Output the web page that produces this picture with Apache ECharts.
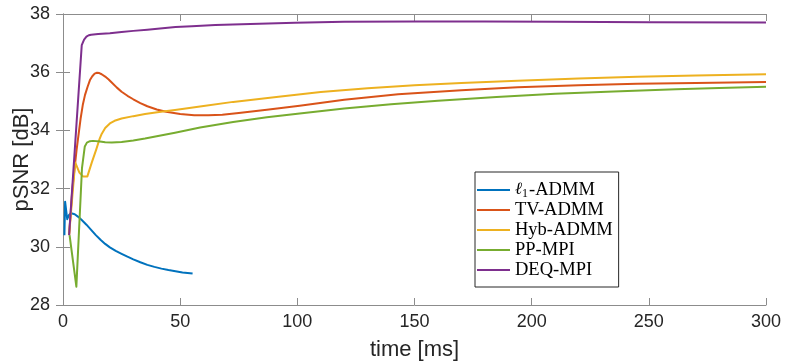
<!DOCTYPE html>
<html>
<head>
<meta charset="utf-8">
<script src="https://cdn.jsdelivr.net/npm/echarts@6/dist/echarts.min.js"></script>
<style>html,body{margin:0;padding:0;background:#fff}#c{width:789px;height:362px}</style>
</head>
<body>
<div id="c"></div>
<script>
// Series names
const seriesNames = ['ℓ1-ADMM', 'TV-ADMM', 'Hyb-ADMM', 'PP-MPI', 'DEQ-MPI'];

// l1-ADMM
const l1Time = [0.6, 0.9, 1.8, 2.6, 3.5, 5, 6.5, 8, 10, 12, 14, 16, 18, 20, 22.5, 25, 27.5, 30, 33, 36, 39, 42, 45, 48, 51, 55.3];
const l1Val  = [30.4, 31.55, 30.95, 31.1, 31.15, 31.12, 31.03, 30.92, 30.76, 30.58, 30.4, 30.24, 30.1, 29.98, 29.86, 29.76, 29.66, 29.57, 29.47, 29.38, 29.31, 29.25, 29.2, 29.16, 29.12, 29.08];

// TV-ADMM
const tvTime = [2.6, 4, 5.8, 7.5, 8.5, 9.4, 10.5, 11.5, 12.5, 13.5, 14.5, 15.5, 16.5, 18, 19.5, 21, 23, 25, 27.5, 30, 33, 36, 40, 44, 50, 56, 62, 68, 75, 87, 101, 120, 143, 170, 194, 220, 245, 270, 300];
const tvVal  = [30.4, 32.0, 33.33, 34.4, 34.9, 35.22, 35.5, 35.73, 35.86, 35.95, 35.98, 35.97, 35.93, 35.85, 35.75, 35.63, 35.47, 35.33, 35.19, 35.07, 34.94, 34.83, 34.72, 34.64, 34.56, 34.52, 34.52, 34.54, 34.6, 34.71, 34.85, 35.05, 35.24, 35.38, 35.48, 35.55, 35.6, 35.63, 35.66];

// Hyb-ADMM
const hybTime = [2.6, 5.2, 7, 8.5, 10.4, 12.3, 14.2, 15.5, 16.5, 18, 20, 22, 25, 30, 35, 41, 47.8, 60, 72.6, 92, 110, 130, 150, 170, 194, 220, 245, 270, 300];
const hybVal  = [30.4, 32.9, 32.55, 32.42, 32.42, 32.9, 33.35, 33.68, 33.88, 34.08, 34.24, 34.33, 34.41, 34.49, 34.56, 34.63, 34.7, 34.84, 34.98, 35.16, 35.32, 35.45, 35.55, 35.63, 35.71, 35.78, 35.84, 35.89, 35.93];

// PP-MPI
const ppTime = [2.8, 5.7, 8.1, 9.3, 10.2, 11.5, 12.8, 15.8, 18, 20.8, 25, 30, 35, 40, 47.8, 58.5, 72.6, 87, 101, 120, 140, 160, 185, 210, 235, 261.6, 280, 300];
const ppVal  = [30.4, 28.63, 32.7, 33.45, 33.58, 33.63, 33.64, 33.62, 33.59, 33.58, 33.6, 33.65, 33.72, 33.8, 33.92, 34.1, 34.29, 34.45, 34.58, 34.75, 34.9, 35.02, 35.15, 35.26, 35.34, 35.41, 35.46, 35.5];

// DEQ-MPI
const deqTime = [2.6, 8, 9, 10, 11, 12, 15, 20, 25, 30, 36, 41.4, 48, 55, 65, 80, 99, 120, 150, 180, 211, 250, 300];
const deqVal  = [30.4, 36.93, 37.12, 37.22, 37.27, 37.29, 37.31, 37.34, 37.38, 37.42, 37.46, 37.5, 37.55, 37.58, 37.62, 37.66, 37.7, 37.73, 37.74, 37.74, 37.73, 37.72, 37.71];

// Axis settings
const xMin = 0, xMax = 300, xStep = 50;
const yMin = 28, yMax = 38, yStep = 2;

const colors = ['#0072BD', '#D95319', '#EDB120', '#77AC30', '#7E2F8E'];
const times = [l1Time, tvTime, hybTime, ppTime, deqTime];
const vals = [l1Val, tvVal, hybVal, ppVal, deqVal];

const chart = echarts.init(document.getElementById('c'), null, {renderer: 'canvas'});
const axisCol = '#8c8c8c';
const labelCol = '#262626';
const sans = 'Liberation Sans, Arial, Helvetica, sans-serif';

const series = seriesNames.map((n, i) => ({
  name: n,
  type: 'line',
  xAxisIndex: 0,
  yAxisIndex: 0,
  symbol: 'none',
  smooth: false,
  lineStyle: {color: colors[i], width: 2, join: 'round'},
  itemStyle: {color: colors[i]},
  data: times[i].map((t, k) => [t, vals[i][k]])
}));

chart.setOption({
  animation: false,
  backgroundColor: '#fff',
  grid: {left: 63, right: 23, top: 14, bottom: 57, containLabel: false, outerBoundsMode: 'none'},
  xAxis: [{
    type: 'value', min: xMin, max: xMax, interval: xStep, position: 'bottom',
    name: 'time [ms]', nameLocation: 'middle', nameGap: 34, nameMoveOverlap: false,
    nameTextStyle: {fontFamily: sans, fontSize: 22, color: labelCol},
    axisLine: {show: true, lineStyle: {color: axisCol, width: 1}},
    axisTick: {show: true, inside: true, length: 7, lineStyle: {color: axisCol}},
    axisLabel: {fontFamily: sans, fontSize: 18, color: labelCol, margin: 8},
    splitLine: {show: false}
  }, {
    type: 'value', min: xMin, max: xMax, interval: xStep, position: 'top',
    axisLine: {show: true, lineStyle: {color: axisCol, width: 1}},
    axisTick: {show: true, inside: true, length: 7, lineStyle: {color: axisCol}},
    axisLabel: {show: false}, splitLine: {show: false}
  }],
  yAxis: [{
    type: 'value', min: yMin, max: yMax, interval: yStep, position: 'left',
    name: 'pSNR [dB]', nameLocation: 'middle', nameGap: 30, nameMoveOverlap: false,
    nameTextStyle: {fontFamily: sans, fontSize: 22, color: labelCol},
    axisLine: {show: true, lineStyle: {color: axisCol, width: 1}},
    axisTick: {show: true, inside: true, length: 7, lineStyle: {color: axisCol}},
    axisLabel: {fontFamily: sans, fontSize: 18, color: labelCol, margin: 13},
    splitLine: {show: false}
  }, {
    type: 'value', min: yMin, max: yMax, interval: yStep, position: 'right',
    axisLine: {show: true, lineStyle: {color: axisCol, width: 1}},
    axisTick: {show: true, inside: true, length: 7, lineStyle: {color: axisCol}},
    axisLabel: {show: false}, splitLine: {show: false}
  }],
  legend: {
    orient: 'vertical',
    left: 475, top: 172,
    padding: [8, 6, 7, 2],
    itemGap: 0,
    icon: 'rect',
    itemWidth: 33, itemHeight: 2,
    backgroundColor: '#fff',
    borderColor: '#262626', borderWidth: 1,
    data: seriesNames,
    formatter: function (n) {
      if (n.charAt(0) === 'ℓ') return '{l|ℓ}{s|1}{t|' + n.slice(2) + '}';
      return n;
    },
    textStyle: {
      fontFamily: 'Liberation Serif, Times New Roman, serif', fontSize: 18.5, color: '#000', lineHeight: 20,
      rich: {
        l: {fontFamily: 'DejaVu Serif, serif', fontSize: 17, fontStyle: 'italic', color: '#000', lineHeight: 20},
        s: {fontFamily: 'Liberation Serif, serif', fontSize: 12, color: '#000', verticalAlign: 'bottom', lineHeight: 14, padding: [6, 1, 0, 0]},
        t: {fontFamily: 'Liberation Serif, Times New Roman, serif', fontSize: 18.5, color: '#000', lineHeight: 20}
      }
    }
  },
  series: series
});
</script>
</body>
</html>
